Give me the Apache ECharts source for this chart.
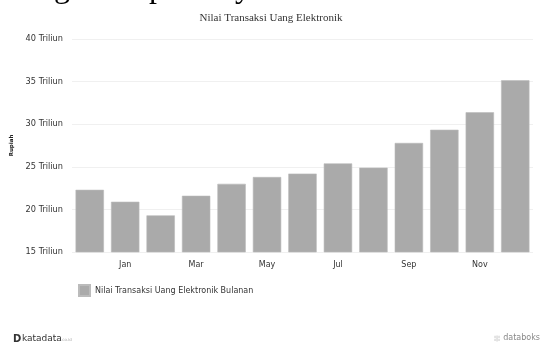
<!DOCTYPE html>
<html>
<head>
<meta charset="utf-8">
<script src="https://cdn.jsdelivr.net/npm/echarts@6/dist/echarts.min.js"></script>
<style>
html,body{margin:0;padding:0;background:#fff;}
#chart{width:542px;height:345px;}
</style>
</head>
<body>
<div id="chart"></div>
<script>
var categories = ["Dec","Jan","Feb","Mar","Apr","May","Jun","Jul","Aug","Sep","Oct","Nov","Dec"];
var values = [22.3, 20.9, 19.3, 21.6, 23.0, 23.8, 24.2, 25.4, 24.9, 27.8, 29.35, 31.4, 35.15];
var seriesName = "Nilai Transaksi Uang Elektronik Bulanan";
var titleText = "Nilai Transaksi Uang Elektronik";
var yAxisName = "Rupiah";

var chart = echarts.init(document.getElementById('chart'), null, {renderer:'canvas'});
var sans = "DejaVu Sans";
chart.setOption({
  animation:false,
  backgroundColor:'#fff',
  title:{text:titleText, left:'center', top:8, textStyle:{fontFamily:'Liberation Serif', fontSize:11, fontWeight:'normal', color:'#333'}},
  grid:{left:72, right:9, top:39, bottom:93, containLabel:false},
  legend:{left:73, top:279, itemWidth:11, itemHeight:11, itemGap:10,
    textStyle:{fontFamily:sans, fontSize:8, color:'#333'},
    data:[{name:seriesName, icon:'rect'}]},
  xAxis:{type:'category', data:categories,
    axisLine:{show:false}, axisTick:{show:false},
    axisLabel:{interval:function(i){return i%2===1;}, fontFamily:sans, fontSize:8, color:'#333', margin:9}},
  yAxis:{type:'value', min:15, max:40, interval:5,
    name:yAxisName, nameLocation:'middle', nameRotate:90, nameGap:57,
    nameTextStyle:{fontFamily:sans, fontSize:5.5, fontWeight:'bold', color:'#222'},
    axisLabel:{formatter:function(v){return v+' Triliun';}, fontFamily:sans, fontSize:8.2, color:'#333', margin:9},
    splitLine:{lineStyle:{color:'#f0f0f0', width:1}}},
  series:[{name:seriesName, type:'bar', data:values, barCategoryGap:'20%',
    itemStyle:{color:'#aaaaaa', borderColor:'#bbbbbb', borderWidth:0.6}}],
  graphic:[
    {type:'text', left:54, top:-27, style:{text:'g', font:'32px "Liberation Serif"', fill:'#000'}},
    {type:'text', left:149, top:-27, style:{text:'p', font:'32px "Liberation Serif"', fill:'#000'}},
    {type:'text', left:235, top:-27, style:{text:'y', font:'32px "Liberation Serif"', fill:'#000'}},
    {type:'text', left:13, top:334, style:{text:'D', font:'bold 10px "DejaVu Sans"', fill:'#333'}},
    {type:'text', left:22, top:334, style:{text:'katadata', font:'9px "DejaVu Sans"', fill:'#333'}},
    {type:'text', left:61, top:338, style:{text:'.co.id', font:'4px "DejaVu Sans"', fill:'#aaa'}},
    {type:'text', left:494, top:335, style:{text:'\u00a6|\u00a6', font:'6px "DejaVu Sans"', fill:'#999'}},
    {type:'text', right:2, top:334, style:{text:'databoks', font:'8px "DejaVu Sans"', fill:'#888'}}
  ]
});
</script>
</body>
</html>
